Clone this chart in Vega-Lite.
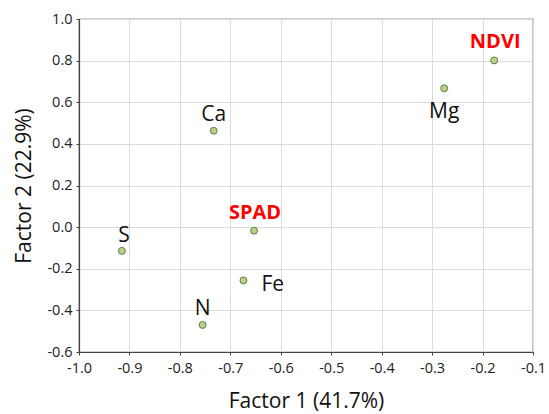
{
  "$schema": "https://vega.github.io/schema/vega-lite/v6.json",
  "width": 454,
  "height": 333,
  "autosize": {"type": "none"},
  "padding": {"left": 79, "top": 19, "right": 16, "bottom": 62},
  "background": "white",
  "config": {
    "font": "Open Sans",
    "view": {"stroke": "#444444", "strokeWidth": 1.2},
    "axis": {
      "labelFont": "Open Sans",
      "titleFont": "Open Sans",
      "labelFontSize": 14.5,
      "titleFontSize": 21,
      "titleFontWeight": "normal",
      "labelColor": "#222222",
      "titleColor": "#111111",
      "domainColor": "#444444",
      "domainWidth": 1.2,
      "tickColor": "#444444",
      "tickSize": 3,
      "gridColor": "#dcdcdc",
      "gridWidth": 1
    }
  },
  "data": {
    "values": [
      {"label": "Ca", "f1": -0.733, "f2": 0.463},
      {"label": "NDVI", "f1": -0.177, "f2": 0.801},
      {"label": "Mg", "f1": -0.276, "f2": 0.667},
      {"label": "S", "f1": -0.915, "f2": -0.114},
      {"label": "SPAD", "f1": -0.653, "f2": -0.017},
      {"label": "Fe", "f1": -0.674, "f2": -0.256},
      {"label": "N", "f1": -0.755, "f2": -0.47}
    ]
  },
  "layer": [
    {
      "mark": {"type": "point", "filled": true, "size": 48, "fill": "#b8d08c", "stroke": "#5f7f3f", "strokeWidth": 1, "opacity": 1},
      "encoding": {
        "x": {"field": "f1", "type": "quantitative",
          "scale": {"domain": [-1.0, -0.1], "nice": false, "zero": false},
          "axis": {"orient": "bottom", "title": "Factor 1 (41.7%)", "grid": true,
            "values": [-1.0, -0.9, -0.8, -0.7, -0.6, -0.5, -0.4, -0.3, -0.2, -0.1],
            "labelExpr": "replace(format(datum.value, '.1f'), '\u2212', '-')",
            "labelPadding": 6, "titlePadding": 16, "labelFlush": false}},
        "y": {"field": "f2", "type": "quantitative",
          "scale": {"domain": [-0.6, 1.0], "nice": false, "zero": false},
          "axis": {"orient": "left", "title": "Factor 2 (22.9%)", "grid": true,
            "values": [-0.6, -0.4, -0.2, 0.0, 0.2, 0.4, 0.6, 0.8, 1.0],
            "labelExpr": "replace(format(datum.value, '.1f'), '\u2212', '-')",
            "labelPadding": 4, "titlePadding": 12, "labelFlush": false}}
      }
    },
    {
      "transform": [{"filter": {"field": "label", "oneOf": ["Ca", "N"]}}],
      "mark": {"type": "text", "align": "center", "baseline": "alphabetic", "dy": -10, "fontSize": 21, "color": "#111111"},
      "encoding": {
        "x": {"field": "f1", "type": "quantitative"},
        "y": {"field": "f2", "type": "quantitative"},
        "text": {"field": "label"}
      }
    },
    {
      "transform": [{"filter": {"field": "label", "oneOf": ["S"]}}],
      "mark": {"type": "text", "align": "center", "baseline": "alphabetic", "dx": 2, "dy": -9, "fontSize": 21, "color": "#111111"},
      "encoding": {
        "x": {"field": "f1", "type": "quantitative"},
        "y": {"field": "f2", "type": "quantitative"},
        "text": {"field": "label"}
      }
    },
    {
      "transform": [{"filter": {"field": "label", "oneOf": ["Mg"]}}],
      "mark": {"type": "text", "align": "center", "baseline": "alphabetic", "dy": 30, "fontSize": 21, "color": "#111111"},
      "encoding": {
        "x": {"field": "f1", "type": "quantitative"},
        "y": {"field": "f2", "type": "quantitative"},
        "text": {"field": "label"}
      }
    },
    {
      "transform": [{"filter": {"field": "label", "oneOf": ["Fe"]}}],
      "mark": {"type": "text", "align": "left", "baseline": "alphabetic", "dx": 18, "dy": 11, "fontSize": 21, "color": "#111111"},
      "encoding": {
        "x": {"field": "f1", "type": "quantitative"},
        "y": {"field": "f2", "type": "quantitative"},
        "text": {"field": "label"}
      }
    },
    {
      "transform": [{"filter": {"field": "label", "oneOf": ["SPAD", "NDVI"]}}],
      "mark": {"type": "text", "align": "center", "baseline": "alphabetic", "dx": 1, "dy": -12, "fontSize": 20, "fontWeight": "bold", "color": "#ff0000"},
      "encoding": {
        "x": {"field": "f1", "type": "quantitative"},
        "y": {"field": "f2", "type": "quantitative"},
        "text": {"field": "label"}
      }
    }
  ]
}
